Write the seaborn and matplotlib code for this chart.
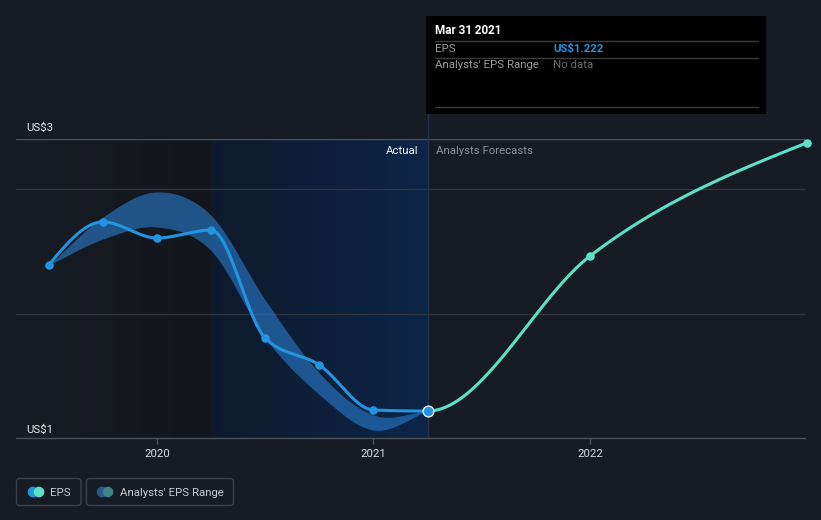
import numpy as np
import pandas as pd
import seaborn as sns
import matplotlib
matplotlib.use("Agg")
import matplotlib.pyplot as plt
from matplotlib.patches import Rectangle, FancyBboxPatch, Circle
from matplotlib.colors import LinearSegmentedColormap

# ---------------- data ----------------
eps_dates = [2019.5, 2019.75, 2020.0, 2020.25, 2020.5, 2020.75, 2021.0, 2021.25]
eps_values = [2.176, 2.458, 2.353, 2.405, 1.699, 1.523, 1.229, 1.222]
forecast_dates = [2021.25, 2022.0, 2023.0]
forecast_values = [1.222, 2.235, 2.974]
range_dates = [2019.5, 2019.75, 2020.0, 2020.25, 2020.5, 2020.75, 2021.0, 2021.25]
range_high = [2.176, 2.490, 2.654, 2.500, 1.948, 1.470, 1.196, 1.222]
range_low = [2.176, 2.346, 2.425, 2.270, 1.699, 1.330, 1.098, 1.222]
year_ticks = [2020, 2021, 2022]
year_labels = ["2020", "2021", "2022"]
y_label_values = [1, 3]
y_label_texts = ["US$1", "US$3"]
tooltip_date = "Mar 31 2021"
tooltip_eps = "US$1.222"

# ---------------- style ----------------
BG = "#161b24"
EPS_C = "#2394df"
FC_C = "#5ce0c8"
sns.set_theme(style="dark")
plt.rcParams["font.family"] = ["Roboto", "DejaVu Sans"]


def hermite(x, y, t, n=80):
    h = np.diff(x)
    xs, ys = [], []
    for i in range(len(x) - 1):
        u = np.linspace(0, 1, n)
        h00 = 2 * u**3 - 3 * u**2 + 1
        h10 = u**3 - 2 * u**2 + u
        h01 = -2 * u**3 + 3 * u**2
        h11 = u**3 - u**2
        xs.append(x[i] + u * h[i])
        ys.append(h00 * y[i] + h10 * h[i] * t[i] + h01 * y[i + 1] + h11 * h[i] * t[i + 1])
    return np.concatenate(xs), np.concatenate(ys)


def monotone(x, y):
    """d3 curveMonotoneX-style smoothing for drawing."""
    x = np.asarray(x, float)
    y = np.asarray(y, float)
    h = np.diff(x)
    s = np.diff(y) / h
    t = np.zeros(len(x))
    for i in range(1, len(x) - 1):
        p = (s[i - 1] * h[i] + s[i] * h[i - 1]) / (h[i - 1] + h[i])
        t[i] = (np.sign(s[i - 1]) + np.sign(s[i])) * min(abs(s[i - 1]), abs(s[i]), 0.5 * abs(p))
    t[0] = (3 * s[0] - t[1]) / 2
    t[-1] = (3 * s[-1] - t[-2]) / 2
    return hermite(x, y, t)


def catmull(x, y):
    x = np.asarray(x, float)
    y = np.asarray(y, float)
    t = np.zeros(len(x))
    for i in range(1, len(x) - 1):
        t[i] = (y[i + 1] - y[i - 1]) / (x[i + 1] - x[i - 1])
    t[0] = (y[1] - y[0]) / (x[1] - x[0])
    t[-1] = (y[-1] - y[-2]) / (x[-1] - x[-2])
    return hermite(x, y, t)


W, H = 821, 520
fig = plt.figure(figsize=(W / 100, H / 100), dpi=100, facecolor=BG)
left_px, right_px, top_px, bot_px = 16, 805, 139, 438
ax = fig.add_axes([left_px / W, 1 - bot_px / H, (right_px - left_px) / W, (bot_px - top_px) / H])
ax.set_facecolor(BG)

x0, x1 = 2019.349, 2022.993
y0, y1 = 1.046, 3.0

# shaded regions (gradients)
grad = np.linspace(0, 1, 256).reshape(1, -1)
cm_dark = LinearSegmentedColormap.from_list("d", ["#181c24", "#13161c"])
cm_blue = LinearSegmentedColormap.from_list("b", ["#0f1a2c", "#0c2548"])
ax.imshow(grad, cmap=cm_dark, extent=[x0, 2020.25, y0, y1], aspect="auto", zorder=0)
ax.imshow(grad, cmap=cm_blue, extent=[2020.25, 2021.25, y0, y1], aspect="auto", zorder=0)
ax.set_xlim(x0, x1)
ax.set_ylim(y0, y1)

# grid lines
ax.axhline(3.0, color="#4b505b", lw=1, zorder=1)
for gv in [2.673, 1.856]:
    ax.axhline(gv, color="#2f343e", lw=1, zorder=1)

# divider line at last actual
ax.plot([2021.25, 2021.25], [y0, 3.165], color="#1c3354", lw=1, zorder=1, clip_on=False)

# analyst range band
bx, bh = catmull(range_dates, range_high)
_, bl = catmull(range_dates, range_low)
ax.fill_between(bx, bl, bh, color="#2b80d4", alpha=0.58, lw=0, zorder=2)

# EPS line (actual + forecast smoothed as one curve)
all_x = eps_dates + forecast_dates[1:]
all_y = eps_values + forecast_values[1:]
cx, cy = monotone(all_x, all_y)
split = np.asarray(cx) <= eps_dates[-1]
sns.lineplot(x=cx[split], y=cy[split], ax=ax, color=EPS_C, lw=2.2, sort=False,
             estimator=None, zorder=3)
sns.lineplot(x=cx[~split], y=cy[~split], ax=ax, color=FC_C, lw=2.2, sort=False,
             estimator=None, zorder=3)

# markers
sns.scatterplot(x=eps_dates[:-1], y=eps_values[:-1], ax=ax, color=EPS_C, s=38,
                edgecolor=EPS_C, linewidth=0, zorder=4)
sns.scatterplot(x=forecast_dates[1:], y=forecast_values[1:], ax=ax, color=FC_C, s=38,
                edgecolor=FC_C, linewidth=0, zorder=4, clip_on=False)
sns.scatterplot(x=[eps_dates[-1]], y=[eps_values[-1]], ax=ax, color=EPS_C, s=60,
                edgecolor="#e8eef5", linewidth=1, zorder=5)

# axes styling
for sp in ["top", "right", "left"]:
    ax.spines[sp].set_visible(False)
ax.spines["bottom"].set_color("#4b505b")
ax.spines["bottom"].set_linewidth(1)
ax.set_yticks([])
ax.set_xticks(year_ticks)
ax.set_xticklabels(year_labels, color="#d8dade", fontsize=8.2)
ax.tick_params(axis="x", length=4, width=1, color="#4b505b", pad=4, bottom=True)
ax.grid(False)
ax.set_xlabel("")
ax.set_ylabel("")

# y value labels above their lines
offsets = {1: 3 / 153, 3: 6 / 153}
for v, t in zip(y_label_values, y_label_texts):
    ax.text(x0 + 10 / 216.5, max(v, y0) + offsets[v], t, color="#e6e8ec", fontsize=8.2,
            va="bottom", ha="left", zorder=6)

# Actual / Analysts Forecasts labels
ax.text(2021.25 - 9 / 216.5, 3.0 - 12 / 153, "Actual", color="#f0f2f5", fontsize=8.2,
        ha="right", va="center", zorder=6)
ax.text(2021.25 + 8 / 216.5, 3.0 - 12 / 153, "Analysts Forecasts", color="#8a8f98",
        fontsize=8.2, ha="left", va="center", zorder=6)

# ---------------- overlay (tooltip + legend) in pixel coords ----------------
ov = fig.add_axes([0, 0, 1, 1], facecolor="none")
ov.set_xlim(0, W)
ov.set_ylim(H, 0)
ov.axis("off")

ov.add_patch(Rectangle((426, 16), 340, 98, facecolor="#000000", edgecolor="none", zorder=1))
ov.text(435, 31, tooltip_date, color="#ffffff", fontsize=8.4, va="center", ha="left",
        fontweight="bold", zorder=2)
for ly in [40.5, 57.5, 106.5]:
    ov.plot([435, 758], [ly, ly], color="#3a3a3a", lw=1, zorder=2)
ov.text(435, 48.5, "EPS", color="#9a9ca0", fontsize=8.2, va="center", ha="left", zorder=2)
ov.text(553, 48.5, tooltip_eps, color=EPS_C, fontsize=8.2, va="center", ha="left",
        fontweight="bold", zorder=2)
ov.text(435, 65.5, "Analysts' EPS Range", color="#9a9ca0", fontsize=8.2, va="center",
        ha="left", zorder=2)
ov.text(553, 65.5, "No data", color="#6a6c70", fontsize=8.2, va="center", ha="left", zorder=2)

# legend boxes
ov.add_patch(FancyBboxPatch((16.5, 478.5), 64.5, 27, boxstyle="round,pad=0,rounding_size=3",
                            facecolor="none", edgecolor="#3b404a", lw=1))
ov.add_patch(FancyBboxPatch((86.5, 478.5), 147, 27, boxstyle="round,pad=0,rounding_size=3",
                            facecolor="none", edgecolor="#3b404a", lw=1))
ov.add_patch(Circle((33, 492), 4.6, color=EPS_C, zorder=3))
ov.add_patch(Circle((39, 492), 4.6, color=FC_C, zorder=4))
ov.add_patch(Circle((102, 492), 4.6, color="#28598a", zorder=3))
ov.add_patch(Circle((108, 492), 4.6, color="#3c8486", zorder=4))
ov.text(50, 492.5, "EPS", color="#c9ccd1", fontsize=8.2, va="center", ha="left")
ov.text(120, 492.5, "Analysts' EPS Range", color="#c9ccd1", fontsize=8.2, va="center", ha="left")

fig.savefig("out.png", dpi=100, facecolor=BG)
